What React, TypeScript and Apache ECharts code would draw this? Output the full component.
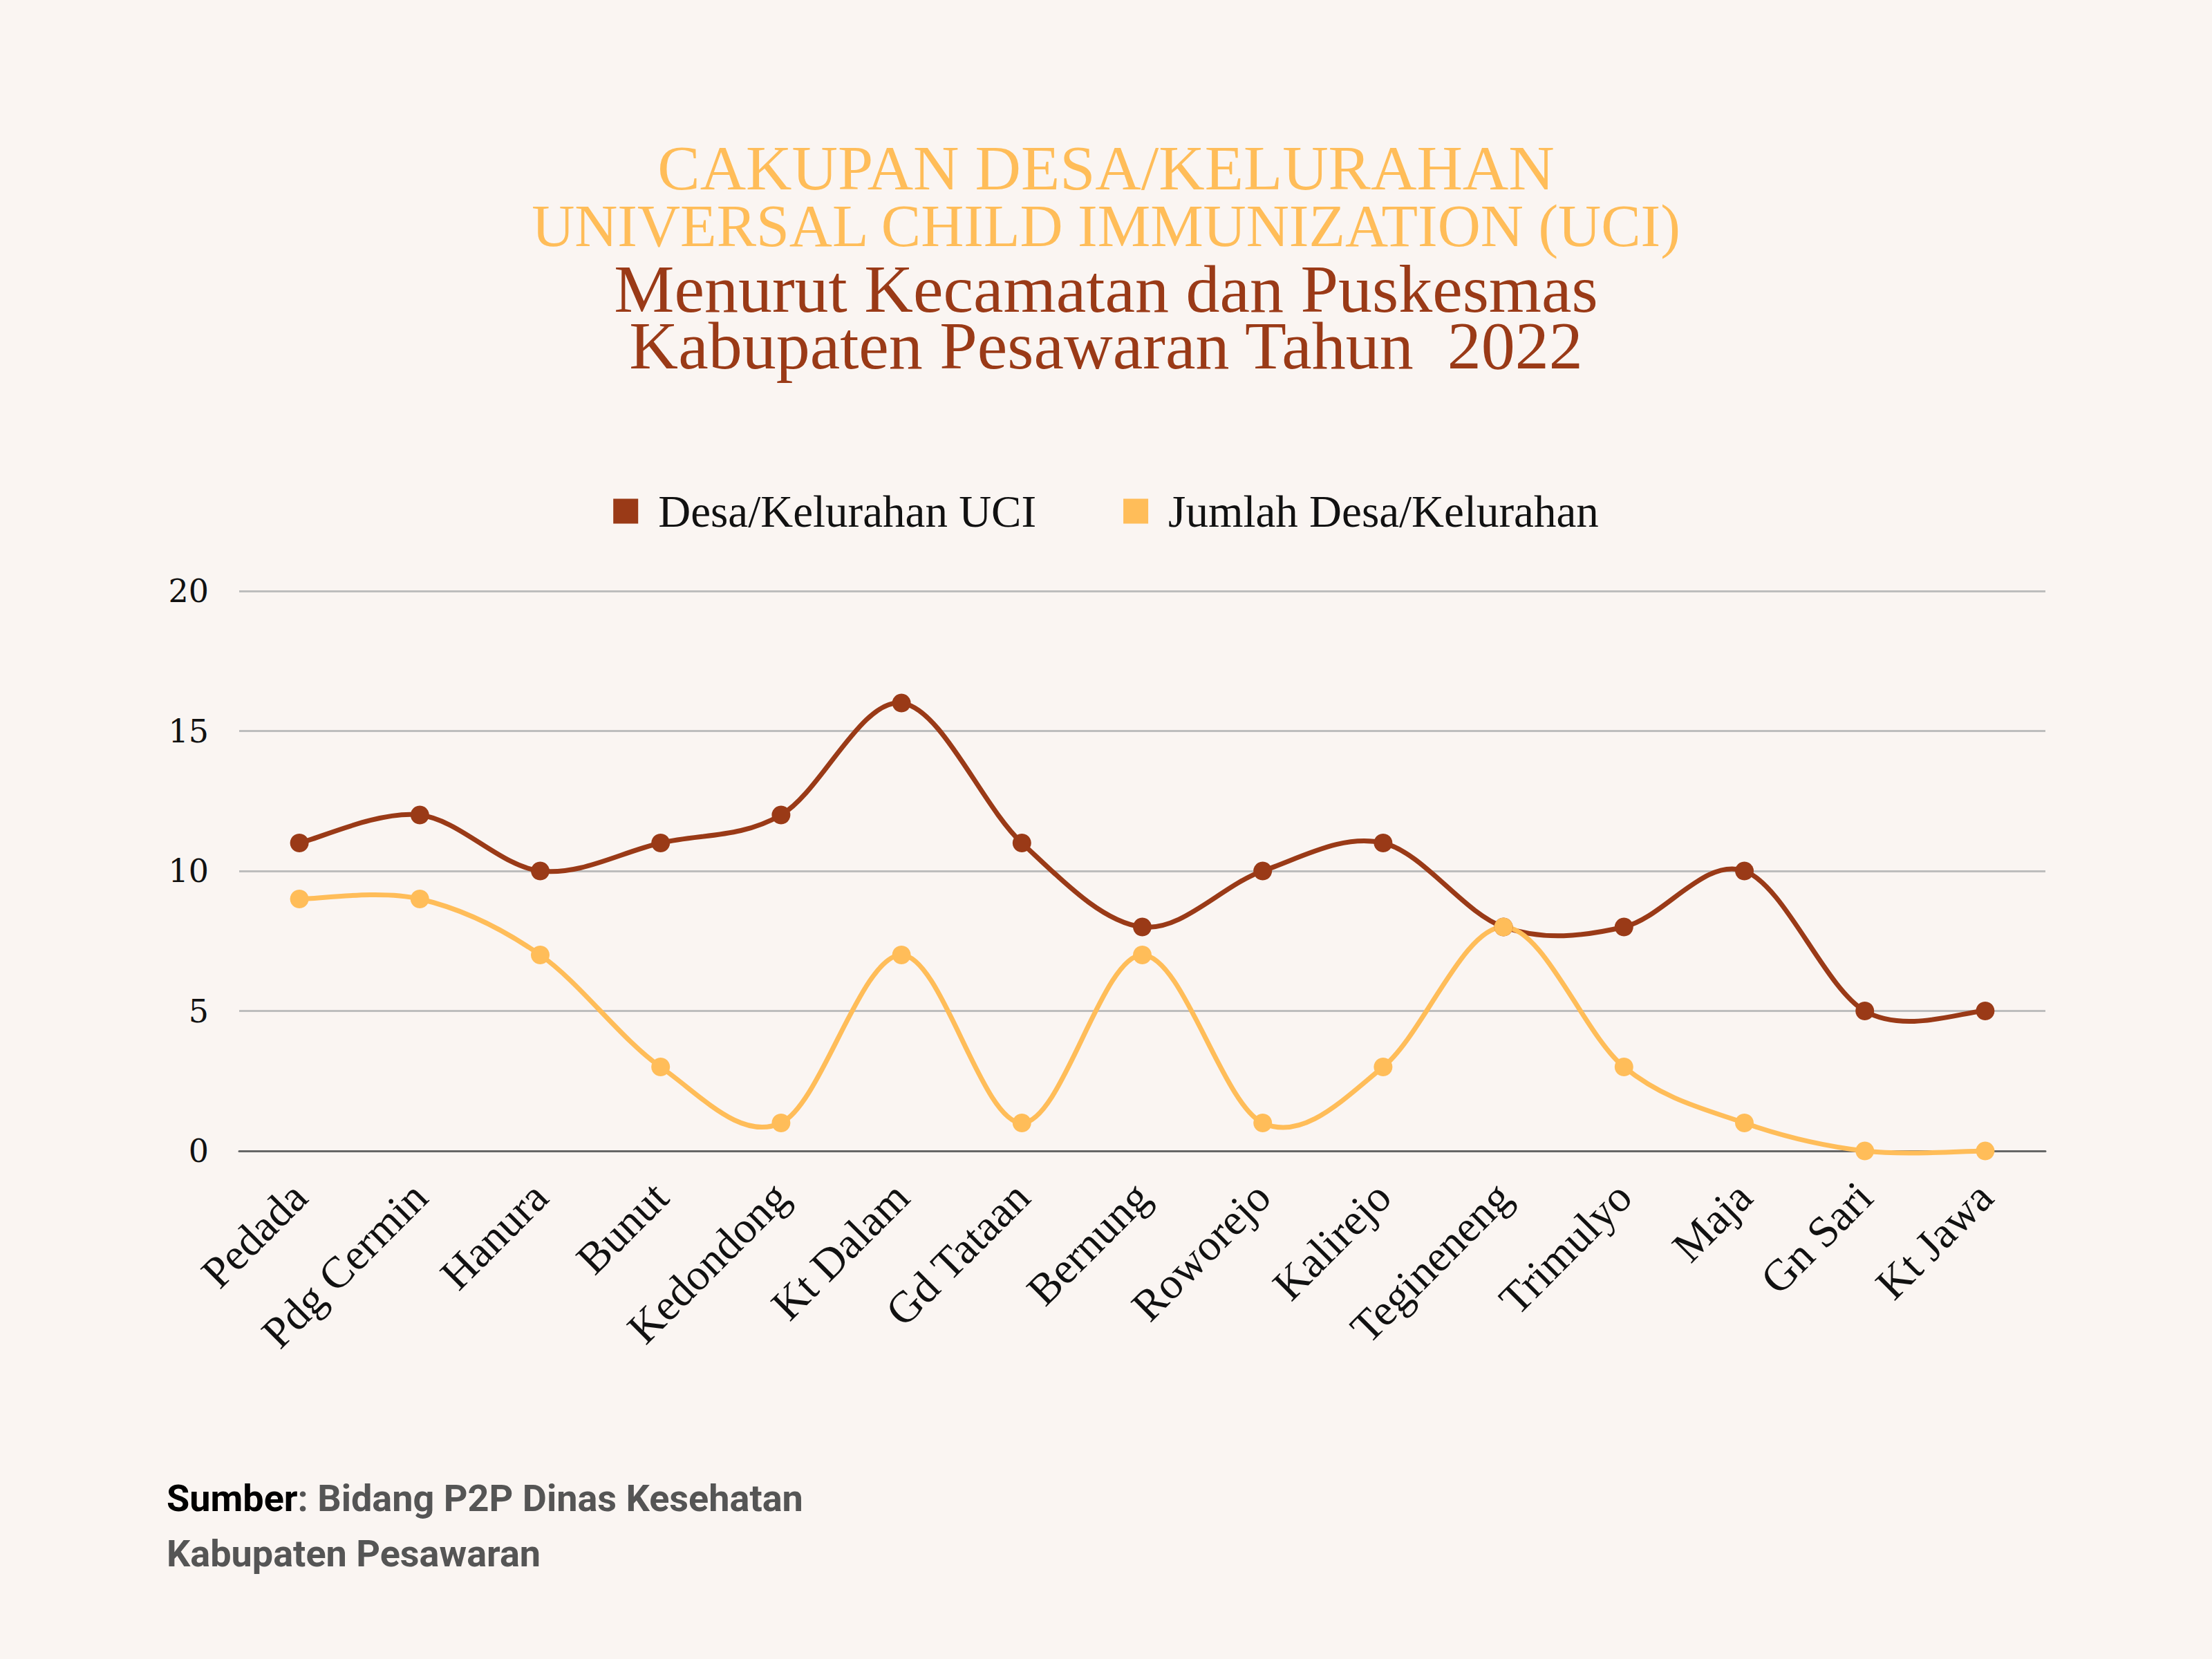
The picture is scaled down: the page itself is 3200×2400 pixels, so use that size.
import React, { useEffect, useRef } from "react";
import * as echarts from "echarts";

const categories = [
  "Pedada", "Pdg Cermin", "Hanura", "Bunut", "Kedondong", "Kt Dalam", "Gd Tataan",
  "Bernung", "Roworejo", "Kalirejo", "Tegineneng", "Trimulyo", "Maja", "Gn Sari", "Kt Jawa",
];
const seriesNames = ["Desa/Kelurahan UCI", "Jumlah Desa/Kelurahan"];
const uciValues = [11, 12, 10, 11, 12, 16, 11, 8, 10, 11, 8, 8, 10, 5, 5];
const jumlahValues = [9, 9, 7, 3, 1, 7, 1, 7, 1, 3, 8, 3, 1, 0, 0];
const yTicks = { min: 0, max: 20, interval: 5 };
const titleLines1 = ["CAKUPAN DESA/KELURAHAN", "UNIVERSAL CHILD IMMUNIZATION (UCI)"];
const titleLines2 = ["Menurut Kecamatan dan Puskesmas", "Kabupaten Pesawaran Tahun  2022"];

const BROWN = "#9A3A17";
const YELLOW = "#FFBD59";
const BG = "#FAF5F2";
const SERIF = "'Liberation Serif', 'DejaVu Serif', serif";

function catmullRomPath(pts: number[][]): string {
  let d = `M${pts[0][0]},${pts[0][1]}`;
  for (let i = 0; i < pts.length - 1; i++) {
    const p0 = pts[i - 1] || pts[i];
    const p1 = pts[i];
    const p2 = pts[i + 1];
    const p3 = pts[i + 2] || p2;
    const c1x = p1[0] + (p2[0] - p0[0]) / 6;
    const c1y = p1[1] + (p2[1] - p0[1]) / 6;
    const c2x = p2[0] - (p3[0] - p1[0]) / 6;
    const c2y = p2[1] - (p3[1] - p1[1]) / 6;
    d += ` C${c1x},${c1y} ${c2x},${c2y} ${p2[0]},${p2[1]}`;
  }
  return d;
}

function curveSeries(name: string, values: number[], color: string, z: number) {
  return {
    name,
    type: "custom",
    coordinateSystem: "cartesian2d",
    clip: false,
    z,
    silent: true,
    data: values.map((v, i) => [i, v]),
    encode: { x: 0, y: 1 },
    renderItem: (params: any, api: any) => {
      if (params.dataIndex !== 0) return null;
      const pts = values.map((v, i) => api.coord([i, v]));
      return {
        type: "path",
        shape: { pathData: catmullRomPath(pts) },
        style: { fill: "none", stroke: color, lineWidth: 7, lineCap: "round", lineJoin: "round" },
      };
    },
  };
}

function pointSeries(name: string, values: number[], color: string, z: number) {
  return {
    name,
    type: "line",
    data: values,
    symbol: "circle",
    symbolSize: 27,
    showSymbol: true,
    itemStyle: { color },
    lineStyle: { color, width: 0, opacity: 0 },
    z,
  };
}

export default function App() {
  const ref = useRef<HTMLDivElement>(null);
  useEffect(() => {
    document.body.style.margin = "0";
    document.body.style.background = BG;
    if (!ref.current) return;
    const chart = echarts.init(ref.current, null, { renderer: "svg" });
    const titleText =
      `{a|${titleLines1[0]}}\n{b|${titleLines1[1]}}\n{c|${titleLines2[0]}}\n{d|${titleLines2[1]}}`;
    const t = (size: number, color: string, lh: number) => ({
      fontFamily: SERIF, fontSize: size, fontWeight: "normal", color, lineHeight: lh, align: "center",
    });
    chart.setOption({
      animation: false,
      backgroundColor: BG,
      title: [
        {
          text: titleText,
          left: "center",
          top: 203,
          padding: 0,
          textStyle: {
            align: "center",
            fontWeight: "normal",
            rich: {
              a: t(92, YELLOW, 80),
              b: t(86, YELLOW, 88),
              c: t(98, BROWN, 94),
              d: t(98, BROWN, 70),
            },
          },
        },
        {
          text: "{a|Sumber}{b|: Bidang P2P Dinas Kesehatan}\n{b|Kabupaten Pesawaran}",
          left: 236,
          top: 2122,
          textStyle: {
            rich: {
              a: { fontFamily: "Roboto", fontWeight: "bold", fontSize: 54, color: "#000", lineHeight: 80 },
              b: { fontFamily: "Roboto", fontWeight: "bold", fontSize: 54, color: "#555555", lineHeight: 80 },
            },
          },
        },
      ],
      legend: {
        top: 702,
        left: "center",
        icon: "rect",
        itemWidth: 36,
        itemHeight: 36,
        itemGap: 126,
        textStyle: { fontFamily: SERIF, fontSize: 65, color: "#111", padding: [0, 0, 0, 24] },
        data: seriesNames,
      },
      grid: { left: 346, right: 241, top: 855, bottom: 735, containLabel: false },
      xAxis: {
        type: "category",
        data: categories,
        boundaryGap: true,
        axisLine: { show: true, lineStyle: { color: "#666", width: 3 } },
        axisTick: { show: false },
        axisLabel: { rotate: 45, margin: 56, fontFamily: SERIF, fontSize: 64, color: "#111", interval: 0 },
      },
      yAxis: {
        type: "value",
        min: yTicks.min,
        max: yTicks.max,
        interval: yTicks.interval,
        axisLine: { show: false },
        axisTick: { show: false },
        splitLine: { lineStyle: { color: "#BDBDBD", width: 3 } },
        axisLabel: { margin: 44, fontFamily: "'DejaVu Serif', serif", fontSize: 46, color: "#111" },
      },
      series: [
        curveSeries("uci-curve", uciValues, BROWN, 2),
        curveSeries("jumlah-curve", jumlahValues, YELLOW, 3),
        pointSeries(seriesNames[0], uciValues, BROWN, 4),
        pointSeries(seriesNames[1], jumlahValues, YELLOW, 5),
      ],
    });
    return () => chart.dispose();
  }, []);
  return <div ref={ref} style={{ width: 3200, height: 2400 }} />;
}
